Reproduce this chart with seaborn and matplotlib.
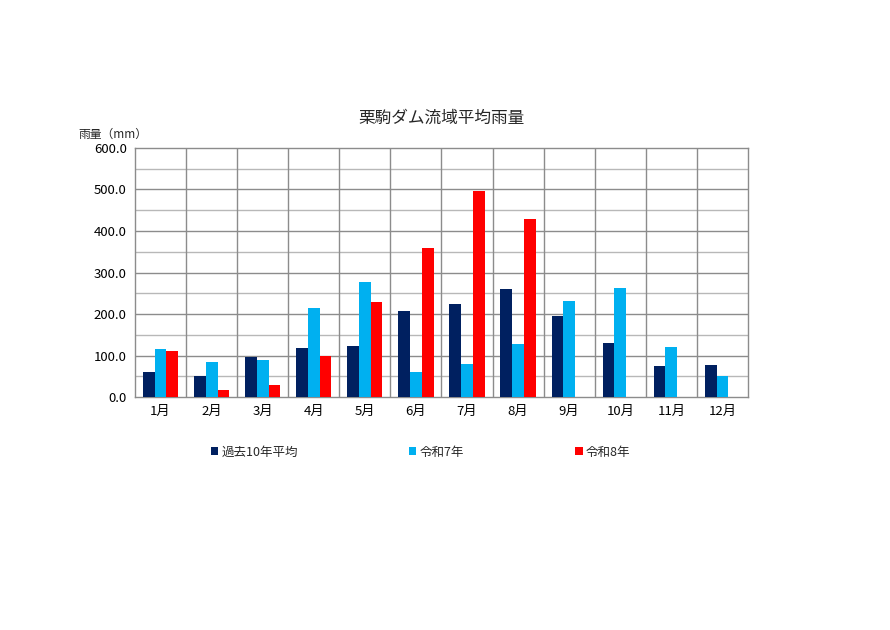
import matplotlib
matplotlib.use("Agg")
import matplotlib.pyplot as plt
import seaborn as sns
import numpy as np
import pandas as pd
from matplotlib.ticker import MultipleLocator, FuncFormatter

months = ["1月", "2月", "3月", "4月", "5月", "6月", "7月", "8月", "9月", "10月", "11月", "12月"]
series_names = ["過去10年平均", "令和7年", "令和8年"]
avg10 = [60, 50, 96, 117, 122, 208, 224, 260, 195, 129, 75, 76]
r7 = [116, 85, 90, 214, 276, 60, 79, 128, 231, 262, 121, 51]
r8 = [112, 18, 30, 100, 230, 358, 497, 428, np.nan, np.nan, np.nan, np.nan]
colors = ["#002060", "#00B0F0", "#FF0000"]

rows = []
for name, vals in zip(series_names, [avg10, r7, r8]):
    for m, v in zip(months, vals):
        rows.append({"月": m, "系列": name, "雨量": v})
df = pd.DataFrame(rows)

sns.set_theme(style="white")
plt.rcParams["font.family"] = ["Noto Sans CJK JP", "DejaVu Sans"]

fig = plt.figure(figsize=(8.9, 6.3), dpi=100)
ax = fig.add_axes([0.1517, 0.3698, 0.6887, 0.3953])

sns.barplot(data=df, x="月", y="雨量", hue="系列", order=months, hue_order=series_names,
            palette=colors, width=0.69, gap=0, saturation=1, ax=ax, legend=True,
            edgecolor="none", linewidth=0, zorder=3)

ax.set_ylim(0, 600)
ax.set_xlim(-0.5, 11.5)
ax.yaxis.set_major_locator(MultipleLocator(100))
ax.yaxis.set_minor_locator(MultipleLocator(50))
ax.yaxis.set_major_formatter(FuncFormatter(lambda v, p: f"{v:.1f}"))
ax.grid(False)
for y in np.arange(50, 600, 50):
    ax.axhline(y, color="#8c8c8c" if y % 100 == 0 else "#b8b8b8", linewidth=1.0, zorder=1)
for x in np.arange(0.5, 11.5, 1):
    ax.axvline(x, color="#8c8c8c", linewidth=1.0, zorder=1)
for s in ax.spines.values():
    s.set_color("#8c8c8c")
    s.set_linewidth(1.0)
    s.set_visible(True)

ax.set_xlabel("")
ax.set_ylabel("")
ax.tick_params(axis="both", which="both", length=0, labelsize=9.5, colors="black", pad=6)

ax.set_title("栗駒ダム流域平均雨量", fontsize=12, pad=18)
fig.text(0.088, 0.777, "雨量（mm）", fontsize=8.5, ha="left", va="bottom")

handles, labels = ax.get_legend_handles_labels()
ax.get_legend().remove()
fig.legend(handles, labels, loc="center left", bbox_to_anchor=(0.224, 0.282), ncol=3,
           frameon=False, fontsize=9, handlelength=0.6, handleheight=0.6,
           handletextpad=0.25, columnspacing=8.9)

fig.savefig("out.png", dpi=100, facecolor="white")
